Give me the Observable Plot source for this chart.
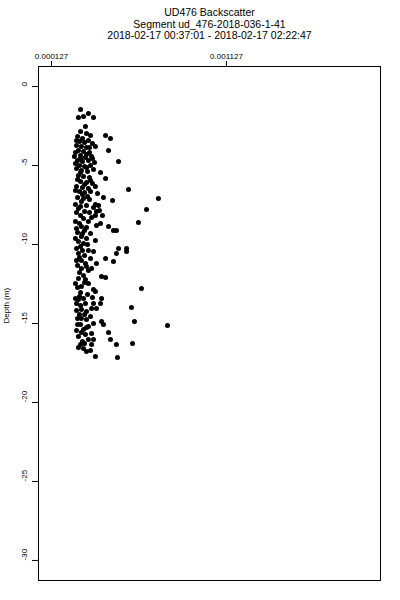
<!DOCTYPE html>
<html>
<head>
<meta charset="utf-8">
<script src="https://cdn.jsdelivr.net/npm/d3@7"></script>
<script src="https://cdn.jsdelivr.net/npm/@observablehq/plot@0.6"></script>
<style>
  html, body { margin: 0; padding: 0; background: white; }
  #chart svg { display: block; }
</style>
</head>
<body>
<div id="chart"></div>
<script>
const titleLines = [
  "UD476 Backscatter",
  "Segment ud_476-2018-036-1-41",
  "2018-02-17 00:37:01 - 2018-02-17 02:22:47"
];
const yLabel = "Depth (m)";
const xTicks = [0.000127, 0.001127];
const xTickLabels = ["0.000127", "0.001127"];
const yTicks = [0, -5, -10, -15, -20, -25, -30];
const xDomain = [0.0000527, 0.002007];
const yDomain = [-31.27, 1.27];

// [backscatter, depth (m)]
const samples = [
  [0.000293,-1.46],[0.000281,-1.96],[0.000310,-1.90],[0.000338,-1.71],[0.000367,-1.96],
  [0.000321,-2.53],[0.000293,-2.85],[0.000327,-2.97],[0.000350,-3.10],[0.000276,-3.16],
  [0.000304,-3.29],[0.000436,-3.10],[0.000464,-3.29],[0.000287,-3.48],[0.000316,-3.54],
  [0.000338,-3.42],[0.000361,-3.61],[0.000270,-3.73],[0.000298,-3.80],[0.000327,-3.86],
  [0.000378,-3.80],[0.000258,-4.43],[0.000281,-4.05],[0.000310,-4.11],[0.000344,-4.18],
  [0.000293,-4.37],[0.000321,-4.49],[0.000356,-4.43],[0.000453,-4.05],[0.000276,-4.68],
  [0.000304,-4.75],[0.000338,-4.68],[0.000373,-4.81],[0.000510,-4.75],[0.000287,-5.00],
  [0.000316,-5.06],[0.000350,-5.00],[0.000270,-5.19],[0.000298,-5.32],[0.000333,-5.38],
  [0.000367,-5.25],[0.000407,-5.44],[0.000281,-5.63],[0.000310,-5.70],[0.000344,-5.76],
  [0.000436,-5.82],[0.000293,-6.01],[0.000327,-6.08],[0.000361,-6.14],[0.000270,-6.33],
  [0.000304,-6.39],[0.000338,-6.46],[0.000378,-6.33],[0.000567,-6.52],[0.000287,-6.65],
  [0.000316,-6.71],[0.000350,-6.65],[0.000390,-6.77],[0.000424,-7.03],[0.000276,-7.03],
  [0.000310,-7.09],[0.000344,-7.15],[0.000476,-7.22],[0.000738,-7.09],[0.000298,-7.28],
  [0.000378,-7.47],[0.000396,-7.53],[0.000327,-7.53],[0.000281,-7.72],[0.000367,-7.66],
  [0.000316,-7.91],[0.000384,-7.91],[0.000670,-7.78],[0.000378,-8.16],[0.000418,-8.16],
  [0.000293,-8.16],[0.000264,-8.54],[0.000338,-8.54],[0.000407,-8.67],[0.000624,-8.61],
  [0.000298,-8.86],[0.000453,-8.86],[0.000481,-9.11],[0.000498,-9.11],[0.000316,-9.11],
  [0.000276,-9.24],[0.000350,-9.30],[0.000298,-9.49],[0.000327,-9.62],[0.000378,-9.75],
  [0.000281,-9.81],[0.000310,-9.94],[0.000293,-10.13],[0.000510,-10.25],[0.000556,-10.25],
  [0.000498,-10.57],[0.000556,-10.44],[0.000281,-10.57],[0.000338,-10.38],[0.000367,-10.44],
  [0.000316,-10.70],[0.000436,-10.89],[0.000481,-11.08],[0.000298,-11.01],[0.000321,-11.20],
  [0.000384,-11.20],[0.000276,-11.33],[0.000298,-11.52],[0.000338,-11.65],[0.000356,-11.52],
  [0.000310,-11.96],[0.000413,-12.03],[0.000436,-12.09],[0.000287,-11.77],[0.000321,-12.22],
  [0.000338,-12.47],[0.000298,-12.66],[0.000641,-12.78],[0.000367,-12.85],[0.000378,-12.97],
  [0.000276,-12.72],[0.000281,-13.48],[0.000310,-13.42],[0.000413,-13.42],[0.000407,-13.73],
  [0.000367,-13.73],[0.000270,-13.73],[0.000584,-13.99],[0.000298,-14.11],[0.000327,-14.24],
  [0.000356,-14.05],[0.000384,-14.05],[0.000287,-14.43],[0.000298,-14.68],[0.000327,-14.75],
  [0.000601,-14.87],[0.000413,-14.87],[0.000424,-15.06],[0.000367,-15.00],[0.000338,-15.19],
  [0.000790,-15.13],[0.000276,-15.06],[0.000310,-15.38],[0.000321,-15.70],[0.000453,-15.57],
  [0.000356,-15.63],[0.000281,-15.82],[0.000464,-16.01],[0.000367,-16.01],[0.000498,-16.33],
  [0.000590,-16.27],[0.000356,-16.33],[0.000293,-16.33],[0.000310,-16.58],[0.000327,-16.77],
  [0.000281,-16.52],[0.000378,-17.09],[0.000504,-17.15],[0.000304,-16.14],[0.000270,-3.42],
  [0.000344,-3.86],[0.000264,-4.18],[0.000327,-4.30],[0.000293,-4.56],[0.000361,-4.56],
  [0.000264,-4.87],[0.000327,-5.13],[0.000293,-5.44],[0.000276,-5.89],[0.000316,-6.20],
  [0.000350,-5.95],[0.000264,-6.58],[0.000304,-6.84],[0.000333,-6.96],[0.000264,-7.47],
  [0.000293,-7.59],[0.000344,-7.97],[0.000270,-7.97],[0.000310,-8.35],[0.000356,-8.29],
  [0.000287,-8.67],[0.000327,-8.92],[0.000270,-8.99],[0.000304,-9.30],[0.000264,-9.62],
  [0.000333,-10.00],[0.000270,-10.25],[0.000304,-10.38],[0.000287,-10.82],[0.000350,-10.89],
  [0.000270,-11.01],[0.000327,-11.39],[0.000281,-12.15],[0.000316,-12.41],[0.000264,-12.47],
  [0.000293,-13.04],[0.000333,-13.16],[0.000287,-13.29],[0.000264,-13.42],[0.000321,-13.73],
  [0.000293,-13.86],[0.000270,-14.18],[0.000316,-14.43],[0.000350,-14.56],[0.000276,-14.68],
  [0.000293,-15.06],[0.000327,-15.25],[0.000270,-15.44],[0.000298,-15.57],[0.000338,-16.01],
  [0.000316,-16.27],[0.000350,-16.71],[0.000401,-7.85],[0.000384,-8.80],[0.000361,-13.35]
];

const font = "'Liberation Sans', Arial, Helvetica, sans-serif";

const chart = Plot.plot({
  width: 400,
  height: 600,
  marginTop: 66,
  marginBottom: 20,
  marginLeft: 38,
  marginRight: 20,
  style: { fontFamily: font, fontSize: "8px", background: "white", color: "black" },
  x: { domain: xDomain, axis: null },
  y: { domain: yDomain, axis: null },
  marks: [
    Plot.frame({ stroke: "black", strokeWidth: 1 }),
    Plot.axisX(xTicks, { anchor: "top", tickSize: 6, tickFormat: () => "", label: null, stroke: "black", strokeWidth: 1 }),
    Plot.text(xTicks, { x: d => d, frameAnchor: "top", dy: -13, text: (d, i) => xTickLabels[i], fontSize: 8, fill: "black" }),
    Plot.axisY(yTicks, { anchor: "left", tickSize: 6, tickFormat: () => "", label: null, stroke: "black", strokeWidth: 1 }),
    Plot.text(yTicks, { y: d => d, frameAnchor: "left", dx: -14, rotate: -90, text: d => String(d), fontSize: 8, fill: "black" }),
    Plot.text([yLabel], { frameAnchor: "left", dx: -32, rotate: -90, text: d => d, fontSize: 8, fill: "black" }),
    Plot.text([titleLines[0]], { frameAnchor: "top", dy: -58, text: d => d, fontSize: 10.5, fill: "black" }),
    Plot.text([titleLines[1]], { frameAnchor: "top", dy: -46, text: d => d, fontSize: 10.5, fill: "black" }),
    Plot.text([titleLines[2]], { frameAnchor: "top", dy: -35, text: d => d, fontSize: 10.5, fill: "black" }),
    Plot.dot(samples, { x: d => d[0], y: d => d[1], r: 2.5, fill: "black", stroke: null })
  ]
});
document.getElementById("chart").appendChild(chart);
</script>
</body>
</html>
